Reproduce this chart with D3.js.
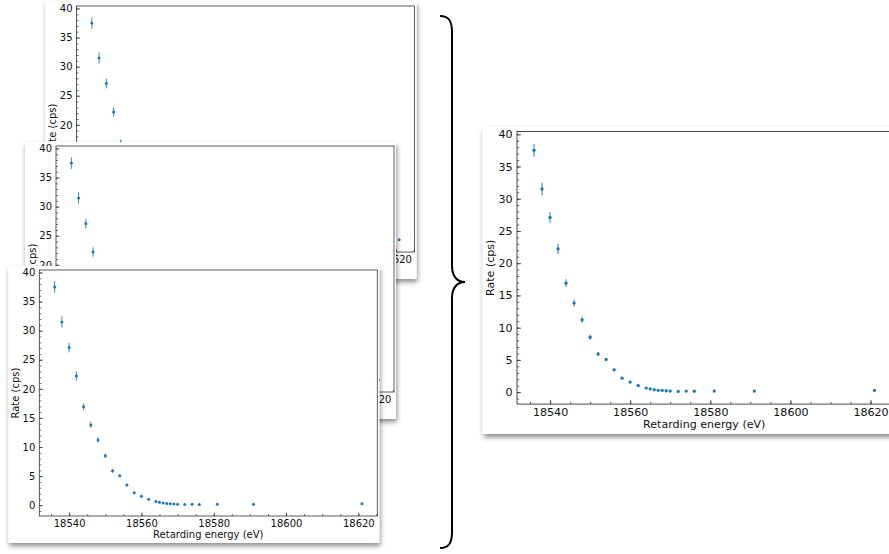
<!DOCTYPE html>
<html>
<head>
<meta charset="utf-8">
<script src="https://cdn.jsdelivr.net/npm/d3@7"></script>
<style>
  body { margin: 0; background: #fff; }
  svg { display: block; font-family: "DejaVu Sans", sans-serif; }
</style>
</head>
<body>
<svg width="889" height="554"></svg>
<script>
// measured spectrum (retarding energy in eV, rate in counts per second)
const energy = [18536, 18538, 18540, 18542, 18544, 18546, 18548, 18550, 18552, 18554,
                18556, 18558, 18560, 18562, 18564, 18565, 18566, 18567, 18568, 18569,
                18570, 18572, 18574, 18576, 18581, 18591, 18621];
const rate = [37.5, 31.5, 27.1, 22.2, 16.9, 13.8, 11.2, 8.5, 5.9, 5.05,
              3.45, 2.15, 1.55, 1.02, 0.62, 0.5, 0.36, 0.27, 0.25, 0.2,
              0.15, 0.1, 0.15, 0.13, 0.15, 0.15, 0.25];
const rateErr = [1.0, 0.97, 0.85, 0.8, 0.6, 0.52, 0.48, 0.4, 0.3, 0.25,
                 0.2, 0.15, 0.12, 0.1, 0.08, 0.07, 0.06, 0.05, 0.05, 0.05,
                 0.04, 0.04, 0.04, 0.04, 0.04, 0.04, 0.05];

const xTicks = [18540, 18560, 18580, 18600, 18620];
const yTicks = [0, 5, 10, 15, 20, 25, 30, 35, 40];
const xMinor = d3.range(18535, 18626, 5);
const yMinor = d3.range(-1, 41, 1);
const xLabel = "Retarding energy (eV)";
const yLabel = "Rate (cps)";

const svg = d3.select("svg");
const W = 338, H = 246;   // axes box of one figure copy (base size)
const blue = "#1f77b4";

const pts = energy.map((e, i) => ({e, r: rate[i], s: rateErr[i]}));

// matplotlib-like autoscale with 5% margins
const xPad = (d3.max(energy) - d3.min(energy)) * 0.05;
const x = d3.scaleLinear()
    .domain([d3.min(energy) - xPad, d3.max(energy) + xPad])
    .range([0, W]);
const yLo = d3.min(pts, d => d.r - d.s), yHi = d3.max(pts, d => d.r + d.s);
const yPad = (yHi - yLo) * 0.05;
const y = d3.scaleLinear()
    .domain([yLo - yPad, yHi + yPad])
    .range([H, 0]);

const defs = svg.append("defs");
defs.append("filter").attr("id", "shadow")
    .attr("x", "-10%").attr("y", "-10%").attr("width", "130%").attr("height", "130%")
  .append("feDropShadow")
    .attr("dx", 1).attr("dy", 3).attr("stdDeviation", 2.5)
    .attr("flood-color", "#000").attr("flood-opacity", 0.45);

function drawPanel(ox, oy, k, id) {
  const g = svg.append("g").attr("transform", `translate(${ox},${oy}) scale(${k})`);

  // white "pasted image" card
  g.append("rect")
      .attr("x", -31).attr("y", -4)
      .attr("width", W + 33).attr("height", H + 31)
      .attr("fill", "#fff")
      .attr("filter", "url(#shadow)");

  defs.append("clipPath").attr("id", "clip-" + id)
    .append("rect")
      .attr("x", -31).attr("y", -4)
      .attr("width", W + 33).attr("height", H + 31);

  const inner = g.append("g").attr("clip-path", `url(#clip-${id})`);

  // minor ticks
  inner.append("g")
      .attr("transform", `translate(0,${H})`)
      .call(d3.axisBottom(x).tickValues(xMinor).tickSize(-2).tickFormat(""))
      .call(a => a.select(".domain").remove())
      .call(a => a.selectAll("line").attr("stroke", "#333").attr("stroke-width", 0.7));
  inner.append("g")
      .call(d3.axisLeft(y).tickValues(yMinor).tickSize(-2).tickFormat(""))
      .call(a => a.select(".domain").remove())
      .call(a => a.selectAll("line").attr("stroke", "#333").attr("stroke-width", 0.7));

  // major ticks + labels
  inner.append("g")
      .attr("transform", `translate(0,${H})`)
      .call(d3.axisBottom(x).tickValues(xTicks).tickSizeInner(-3.5).tickSizeOuter(0)
          .tickPadding(3.5).tickFormat(d3.format("d")))
      .call(a => a.select(".domain").remove())
      .call(a => a.selectAll("line").attr("stroke", "#333").attr("stroke-width", 0.8))
      .call(a => a.selectAll("text").attr("font-size", 10)
          .attr("font-family", "DejaVu Sans").attr("fill", "#111"));
  inner.append("g")
      .call(d3.axisLeft(y).tickValues(yTicks).tickSizeInner(-3.5).tickSizeOuter(0)
          .tickPadding(4).tickFormat(d3.format("d")))
      .call(a => a.select(".domain").remove())
      .call(a => a.selectAll("line").attr("stroke", "#333").attr("stroke-width", 0.8))
      .call(a => a.selectAll("text").attr("font-size", 10)
          .attr("font-family", "DejaVu Sans").attr("fill", "#111"));

  // spines
  inner.append("rect")
      .attr("width", W).attr("height", H)
      .attr("fill", "none").attr("stroke", "#333").attr("stroke-width", 0.8);

  // axis labels
  inner.append("text")
      .attr("x", W / 2).attr("y", H + 22)
      .attr("text-anchor", "middle")
      .attr("font-size", 10).attr("fill", "#111")
      .text(xLabel);
  inner.append("text")
      .attr("transform", `translate(-24,${H / 2}) rotate(-90)`)
      .attr("dy", "0.35em")
      .attr("text-anchor", "middle")
      .attr("font-size", 10).attr("fill", "#111")
      .text(yLabel);

  // error bars and points
  inner.append("g").selectAll("line")
    .data(pts)
    .join("line")
      .attr("x1", d => x(d.e)).attr("x2", d => x(d.e))
      .attr("y1", d => y(d.r - d.s)).attr("y2", d => y(d.r + d.s))
      .attr("stroke", blue).attr("stroke-width", 1).attr("stroke-opacity", 0.85);
  inner.append("g").selectAll("circle")
    .data(pts)
    .join("circle")
      .attr("cx", d => x(d.e)).attr("cy", d => y(d.r))
      .attr("r", 1.5)
      .attr("fill", blue);
}

// three stacked copies on the left, back to front
drawPanel(76.5, 6, 1, "a");
drawPanel(56, 146, 1, "b");
drawPanel(39.3, 270, 1, "c");
// enlarged copy on the right
drawPanel(517, 131.5, 1.108, "d");

// curly brace joining the stack to the right figure
svg.append("path")
    .attr("d", "M440,16 C448,16 452,20 452,32 L452,266 C452,276 457,282 465,282 " +
               "C457,282 452,288 452,298 L452,532 C452,544 448,548 440,548")
    .attr("fill", "none")
    .attr("stroke", "#000")
    .attr("stroke-width", 2);
</script>
</body>
</html>
